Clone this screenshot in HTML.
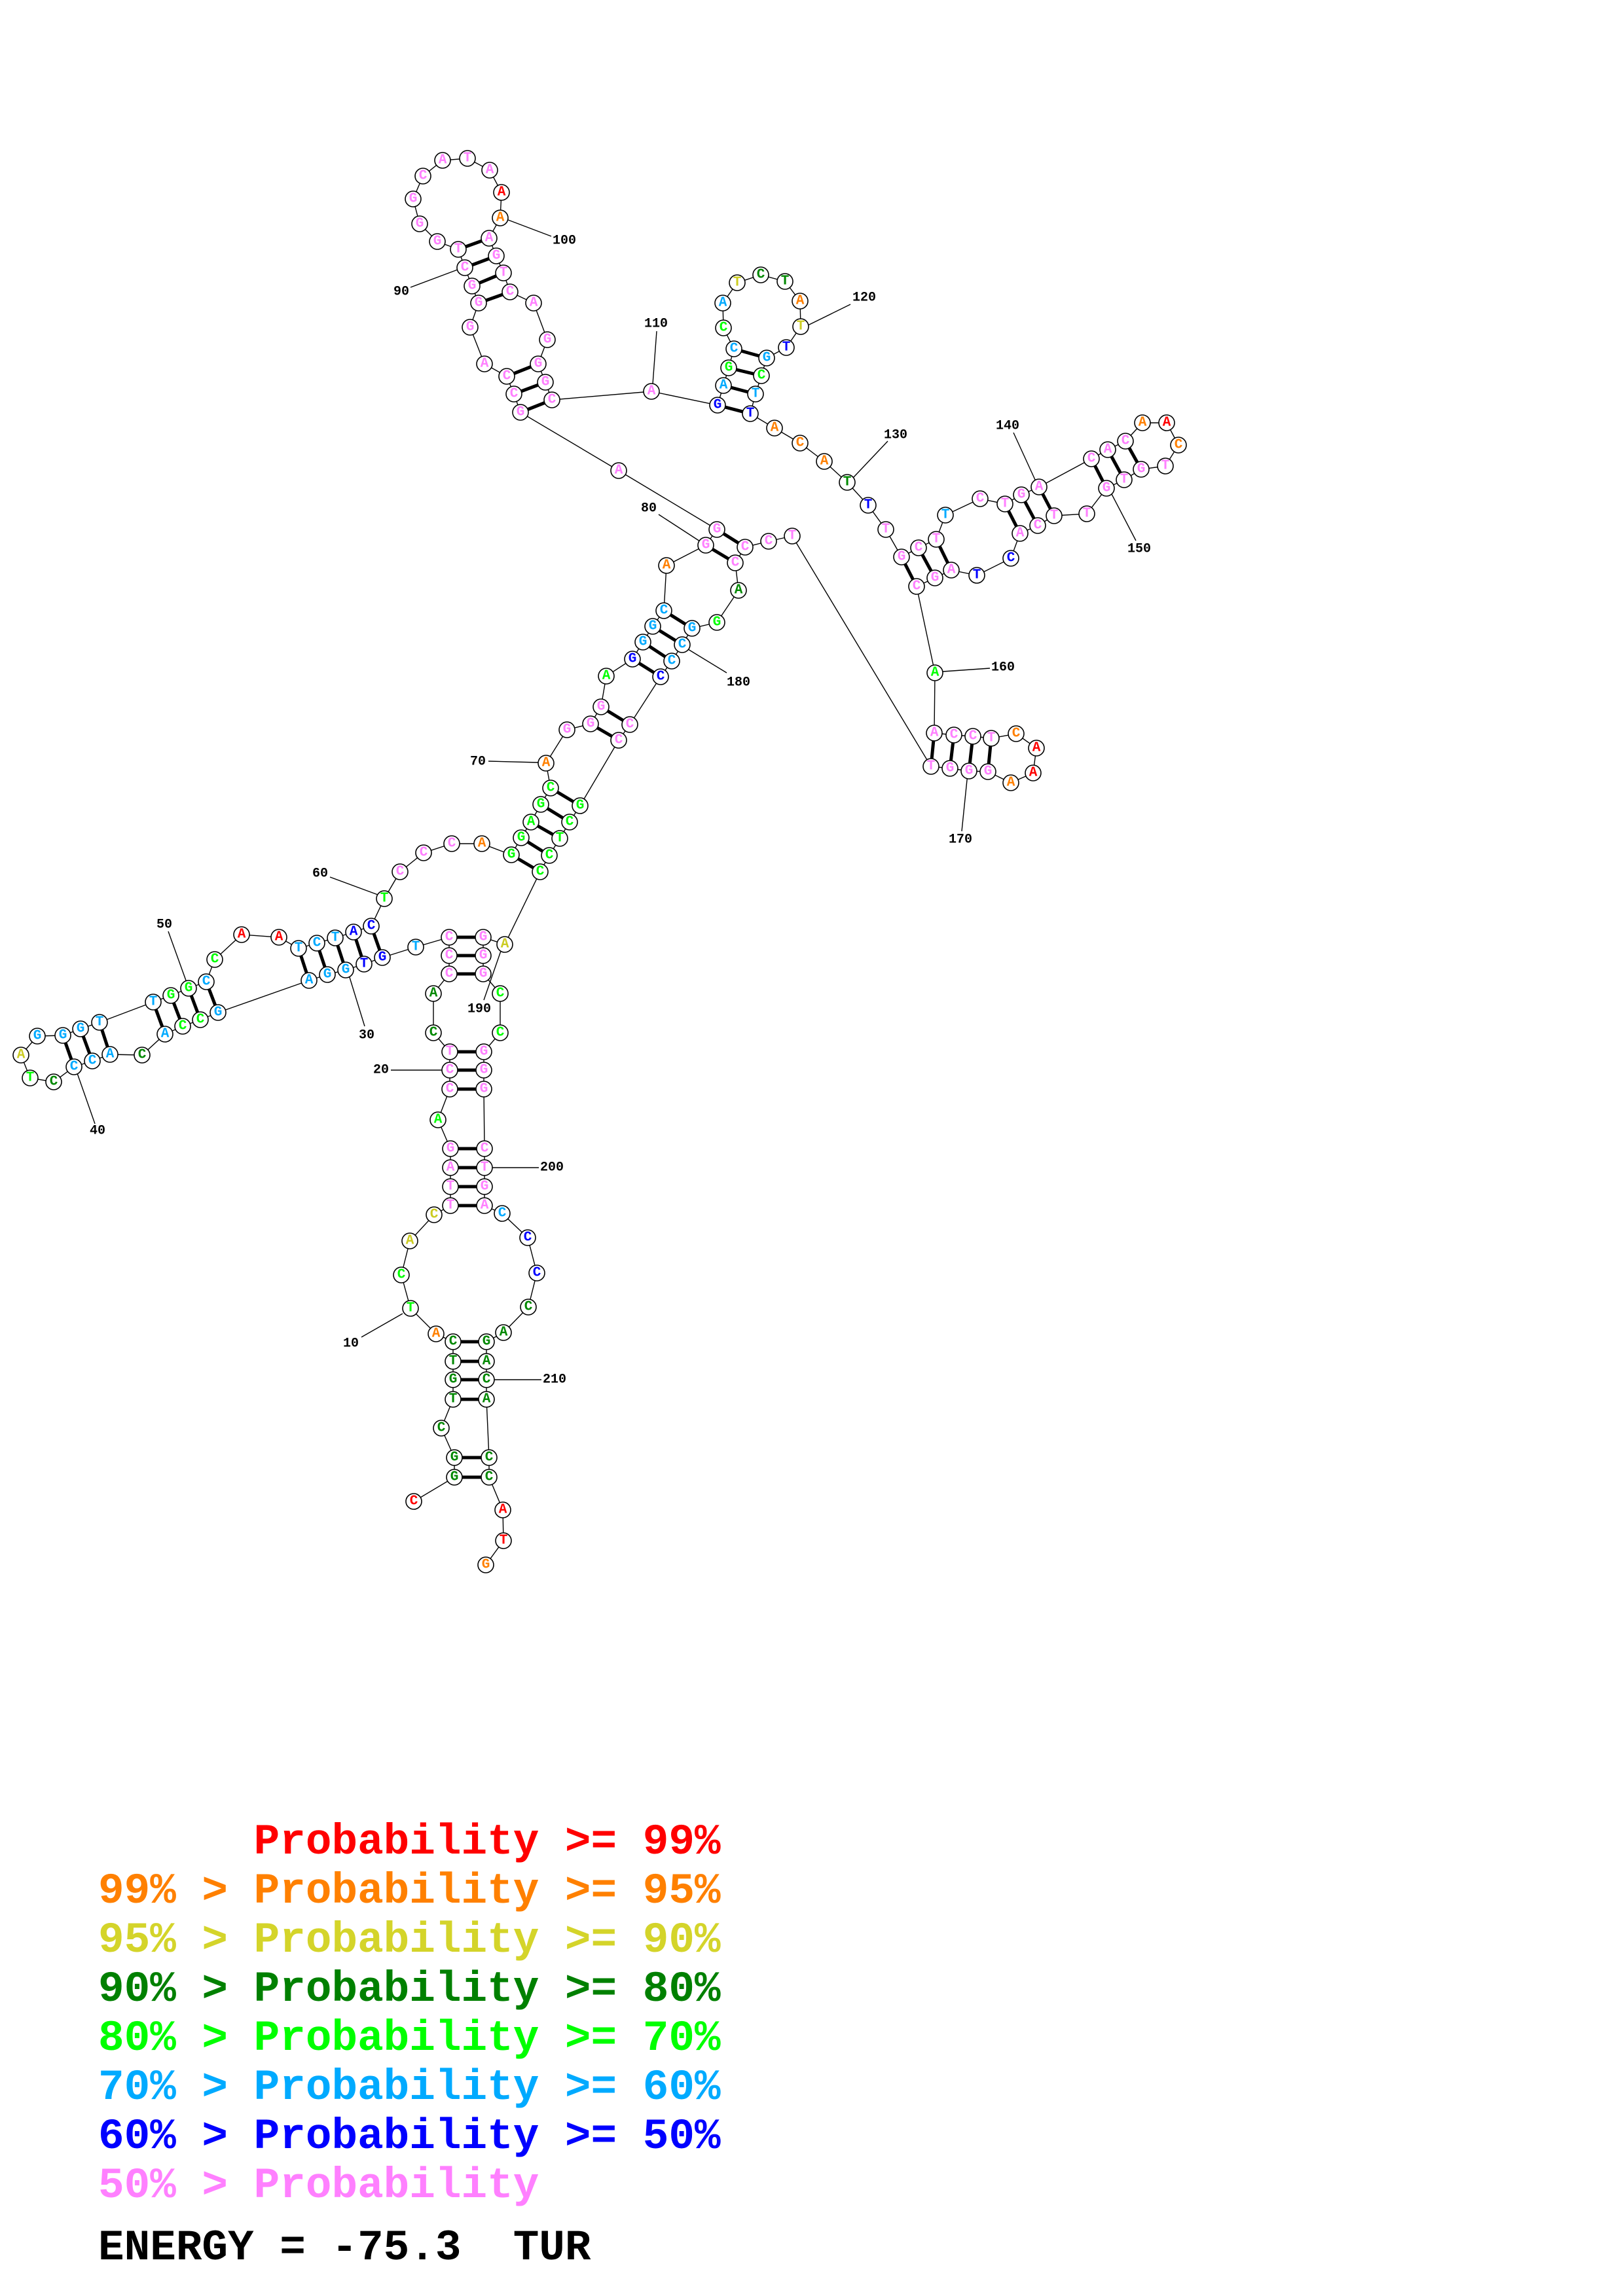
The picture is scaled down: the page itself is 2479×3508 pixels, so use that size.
<!DOCTYPE html>
<html><head><meta charset="utf-8"><style>
html,body{margin:0;padding:0;background:#fff;}
svg{display:block;}
.n text{font-family:"Liberation Mono",monospace;font-weight:bold;font-size:21px;text-anchor:middle;dominant-baseline:central;}
.lb{font-family:"Liberation Mono",monospace;font-weight:bold;font-size:20px;text-anchor:middle;dominant-baseline:central;fill:#000;}
.lg{font-family:"Liberation Mono",monospace;font-weight:bold;font-size:66px;white-space:pre;}
</style></head><body>
<svg width="2479" height="3508" viewBox="0 0 2479 3508" xmlns="http://www.w3.org/2000/svg">
<rect width="2479" height="3508" fill="#fff"/>
<polyline fill="none" stroke="#000" stroke-width="1.4" points="632,2294 694,2257 694,2227 674,2182 692,2138 692,2108 692,2080 692,2050 666,2038 627,1999 613,1948 626,1896 663,1856 688,1842 688,1813 688,1784 688,1755 669,1711 687,1664 687,1635 687,1607 662,1578 662,1518 686,1488 686,1460 686,1432 635,1447 584,1463 556,1473 528,1482 500,1489 472,1498 333,1547 306,1558 279,1568 252,1580 217,1612 168,1611 141,1621 113,1630 82,1653 46,1647 32,1612 57,1583 96,1582 123,1572 152,1562 234,1531 261,1521 288,1510 315,1500 328,1466 369,1428 426,1432 456,1449 484,1441 512,1433 540,1424 567,1415 587,1373 611,1332 647,1303 690,1289 736,1289 781,1306 796,1280 811,1256 826,1229 841,1204 834,1166 866,1115 902,1106 918,1080 926,1033 966,1007 982,981 997,957 1014,933 1018,864 1078,833 1095,809 945,719 795,630 785,602 774,575 740,556 718,500 731,463 721,437 710,409 700,381 668,369 641,342 631,304 646,269 676,245 714,242 748,260 766,294 764,333 747,364 758,391 769,417 779,446 815,463 836,519 822,556 833,584 843,611 995,598 1096,619 1105,589 1113,562 1121,533 1105,501 1104,463 1126,432 1162,420 1199,430 1222,460 1223,499 1201,531 1171,547 1163,574 1154,602 1146,632 1183,654 1222,677 1259,705 1294,737 1326,772 1353,809 1377,851 1403,837 1430,824 1444,787 1497,762 1535,770 1560,756 1587,744 1667,701 1692,687 1719,674 1745,646 1782,646 1800,680 1780,712 1743,717 1717,733 1690,746 1660,785 1610,788 1585,803 1558,815 1544,853 1492,879 1453,871 1428,883 1400,896 1428,1028 1427,1120 1457,1123 1486,1125 1514,1128 1552,1121 1583,1143 1578,1181 1544,1196 1509,1179 1480,1178 1451,1174 1422,1171 1210,819 1174,827 1138,836 1123,860 1128,902 1095,951 1057,960 1042,985 1026,1010 1009,1034 962,1107 945,1131 886,1231 870,1256 855,1281 839,1307 825,1332 771,1443 738,1432 738,1460 738,1488 764,1518 764,1578 739,1607 739,1635 739,1664 740,1755 740,1784 740,1813 740,1842 767,1854 806,1891 820,1945 807,1997 769,2036 743,2050 743,2080 743,2108 743,2138 747,2227 747,2257 768,2307 769,2354 742,2391"/>
<g stroke="#000" stroke-width="5">
<line x1="694" y1="2257" x2="747" y2="2257"/><line x1="694" y1="2227" x2="747" y2="2227"/>
<line x1="692" y1="2138" x2="743" y2="2138"/><line x1="692" y1="2108" x2="743" y2="2108"/><line x1="692" y1="2080" x2="743" y2="2080"/><line x1="692" y1="2050" x2="743" y2="2050"/>
<line x1="688" y1="1842" x2="740" y2="1842"/><line x1="688" y1="1813" x2="740" y2="1813"/><line x1="688" y1="1784" x2="740" y2="1784"/><line x1="688" y1="1755" x2="740" y2="1755"/>
<line x1="687" y1="1664" x2="739" y2="1664"/><line x1="687" y1="1635" x2="739" y2="1635"/><line x1="687" y1="1607" x2="739" y2="1607"/>
<line x1="686" y1="1488" x2="738" y2="1488"/><line x1="686" y1="1460" x2="738" y2="1460"/><line x1="686" y1="1432" x2="738" y2="1432"/>
<line x1="584" y1="1463" x2="567" y2="1415"/><line x1="556" y1="1473" x2="540" y2="1424"/><line x1="528" y1="1482" x2="512" y2="1433"/><line x1="500" y1="1489" x2="484" y2="1441"/><line x1="472" y1="1498" x2="456" y2="1449"/>
<line x1="333" y1="1547" x2="315" y2="1500"/><line x1="306" y1="1558" x2="288" y2="1510"/><line x1="279" y1="1568" x2="261" y2="1521"/><line x1="252" y1="1580" x2="234" y2="1531"/>
<line x1="168" y1="1611" x2="152" y2="1562"/><line x1="141" y1="1621" x2="123" y2="1572"/><line x1="113" y1="1630" x2="96" y2="1582"/>
<line x1="781" y1="1306" x2="825" y2="1332"/><line x1="796" y1="1280" x2="839" y2="1307"/><line x1="811" y1="1256" x2="855" y2="1281"/><line x1="826" y1="1229" x2="870" y2="1256"/><line x1="841" y1="1204" x2="886" y2="1231"/>
<line x1="902" y1="1106" x2="945" y2="1131"/><line x1="918" y1="1080" x2="962" y2="1107"/>
<line x1="966" y1="1007" x2="1009" y2="1034"/><line x1="982" y1="981" x2="1026" y2="1010"/><line x1="997" y1="957" x2="1042" y2="985"/><line x1="1014" y1="933" x2="1057" y2="960"/>
<line x1="1078" y1="833" x2="1123" y2="860"/><line x1="1095" y1="809" x2="1138" y2="836"/>
<line x1="795" y1="630" x2="843" y2="611"/><line x1="785" y1="602" x2="833" y2="584"/><line x1="774" y1="575" x2="822" y2="556"/>
<line x1="731" y1="463" x2="779" y2="446"/><line x1="721" y1="437" x2="769" y2="417"/><line x1="710" y1="409" x2="758" y2="391"/><line x1="700" y1="381" x2="747" y2="364"/>
<line x1="1096" y1="619" x2="1146" y2="632"/><line x1="1105" y1="589" x2="1154" y2="602"/><line x1="1113" y1="562" x2="1163" y2="574"/><line x1="1121" y1="533" x2="1171" y2="547"/>
<line x1="1377" y1="851" x2="1400" y2="896"/><line x1="1403" y1="837" x2="1428" y2="883"/><line x1="1430" y1="824" x2="1453" y2="871"/>
<line x1="1535" y1="770" x2="1558" y2="815"/><line x1="1560" y1="756" x2="1585" y2="803"/><line x1="1587" y1="744" x2="1610" y2="788"/>
<line x1="1667" y1="701" x2="1690" y2="746"/><line x1="1692" y1="687" x2="1717" y2="733"/><line x1="1719" y1="674" x2="1743" y2="717"/>
<line x1="1427" y1="1120" x2="1422" y2="1171"/><line x1="1457" y1="1123" x2="1451" y2="1174"/><line x1="1486" y1="1125" x2="1480" y2="1178"/><line x1="1514" y1="1128" x2="1509" y2="1179"/>
</g>
<g stroke="#000" stroke-width="1.4">
<line x1="552" y1="2043" x2="615" y2="2007"/><line x1="597" y1="1635" x2="677" y2="1635"/><line x1="557" y1="1568" x2="533" y2="1490"/><line x1="145" y1="1717" x2="118" y2="1640"/><line x1="257" y1="1423" x2="284" y2="1498"/><line x1="504" y1="1340" x2="577" y2="1367"/><line x1="746" y1="1163" x2="823" y2="1165"/><line x1="1006" y1="786" x2="1069" y2="827"/><line x1="627" y1="439" x2="699" y2="412"/><line x1="776" y1="336" x2="842" y2="361"/><line x1="1003" y1="506" x2="997" y2="587"/><line x1="1234" y1="497" x2="1299" y2="465"/><line x1="1303" y1="730" x2="1356" y2="674"/><line x1="1581" y1="733" x2="1548" y2="661"/><line x1="1698" y1="755" x2="1735" y2="826"/><line x1="1440" y1="1026" x2="1512" y2="1021"/><line x1="1478" y1="1182" x2="1469" y2="1270"/><line x1="1051" y1="992" x2="1110" y2="1028"/><line x1="765" y1="1453" x2="739" y2="1528"/><line x1="752" y1="1784" x2="823" y2="1784"/><line x1="755" y1="2108" x2="827" y2="2108"/>
</g>
<g class="lb">
<text x="536" y="2053">10</text><text x="582" y="1635">20</text><text x="560" y="1582">30</text><text x="149" y="1728">40</text><text x="251" y="1413">50</text><text x="489" y="1335">60</text><text x="730" y="1164">70</text><text x="991" y="777">80</text><text x="613" y="446">90</text><text x="862" y="368">100</text><text x="1002" y="495">110</text><text x="1320" y="455">120</text><text x="1368" y="665">130</text><text x="1539" y="651">140</text><text x="1740" y="839">150</text><text x="1532" y="1020">160</text><text x="1467" y="1283">170</text><text x="1128" y="1043">180</text><text x="732" y="1542">190</text><text x="843" y="1784">200</text><text x="847" y="2108">210</text>
</g>
<g fill="#fff" stroke="#000" stroke-width="1.6">
<circle cx="632" cy="2294" r="12"/><circle cx="694" cy="2257" r="12"/><circle cx="694" cy="2227" r="12"/><circle cx="674" cy="2182" r="12"/><circle cx="692" cy="2138" r="12"/><circle cx="692" cy="2108" r="12"/><circle cx="692" cy="2080" r="12"/><circle cx="692" cy="2050" r="12"/><circle cx="666" cy="2038" r="12"/><circle cx="627" cy="1999" r="12"/><circle cx="613" cy="1948" r="12"/><circle cx="626" cy="1896" r="12"/><circle cx="663" cy="1856" r="12"/><circle cx="688" cy="1842" r="12"/><circle cx="688" cy="1813" r="12"/><circle cx="688" cy="1784" r="12"/><circle cx="688" cy="1755" r="12"/><circle cx="669" cy="1711" r="12"/><circle cx="687" cy="1664" r="12"/><circle cx="687" cy="1635" r="12"/><circle cx="687" cy="1607" r="12"/><circle cx="662" cy="1578" r="12"/><circle cx="662" cy="1518" r="12"/><circle cx="686" cy="1488" r="12"/><circle cx="686" cy="1460" r="12"/><circle cx="686" cy="1432" r="12"/><circle cx="635" cy="1447" r="12"/><circle cx="584" cy="1463" r="12"/><circle cx="556" cy="1473" r="12"/><circle cx="528" cy="1482" r="12"/><circle cx="500" cy="1489" r="12"/><circle cx="472" cy="1498" r="12"/><circle cx="333" cy="1547" r="12"/><circle cx="306" cy="1558" r="12"/><circle cx="279" cy="1568" r="12"/><circle cx="252" cy="1580" r="12"/><circle cx="217" cy="1612" r="12"/><circle cx="168" cy="1611" r="12"/><circle cx="141" cy="1621" r="12"/><circle cx="113" cy="1630" r="12"/><circle cx="82" cy="1653" r="12"/><circle cx="46" cy="1647" r="12"/><circle cx="32" cy="1612" r="12"/><circle cx="57" cy="1583" r="12"/><circle cx="96" cy="1582" r="12"/><circle cx="123" cy="1572" r="12"/><circle cx="152" cy="1562" r="12"/><circle cx="234" cy="1531" r="12"/><circle cx="261" cy="1521" r="12"/><circle cx="288" cy="1510" r="12"/><circle cx="315" cy="1500" r="12"/><circle cx="328" cy="1466" r="12"/><circle cx="369" cy="1428" r="12"/><circle cx="426" cy="1432" r="12"/><circle cx="456" cy="1449" r="12"/><circle cx="484" cy="1441" r="12"/><circle cx="512" cy="1433" r="12"/><circle cx="540" cy="1424" r="12"/><circle cx="567" cy="1415" r="12"/><circle cx="587" cy="1373" r="12"/><circle cx="611" cy="1332" r="12"/><circle cx="647" cy="1303" r="12"/><circle cx="690" cy="1289" r="12"/><circle cx="736" cy="1289" r="12"/><circle cx="781" cy="1306" r="12"/><circle cx="796" cy="1280" r="12"/><circle cx="811" cy="1256" r="12"/><circle cx="826" cy="1229" r="12"/><circle cx="841" cy="1204" r="12"/><circle cx="834" cy="1166" r="12"/><circle cx="866" cy="1115" r="12"/><circle cx="902" cy="1106" r="12"/><circle cx="918" cy="1080" r="12"/><circle cx="926" cy="1033" r="12"/><circle cx="966" cy="1007" r="12"/><circle cx="982" cy="981" r="12"/><circle cx="997" cy="957" r="12"/><circle cx="1014" cy="933" r="12"/><circle cx="1018" cy="864" r="12"/><circle cx="1078" cy="833" r="12"/><circle cx="1095" cy="809" r="12"/><circle cx="945" cy="719" r="12"/><circle cx="795" cy="630" r="12"/><circle cx="785" cy="602" r="12"/><circle cx="774" cy="575" r="12"/><circle cx="740" cy="556" r="12"/><circle cx="718" cy="500" r="12"/><circle cx="731" cy="463" r="12"/><circle cx="721" cy="437" r="12"/><circle cx="710" cy="409" r="12"/><circle cx="700" cy="381" r="12"/><circle cx="668" cy="369" r="12"/><circle cx="641" cy="342" r="12"/><circle cx="631" cy="304" r="12"/><circle cx="646" cy="269" r="12"/><circle cx="676" cy="245" r="12"/><circle cx="714" cy="242" r="12"/><circle cx="748" cy="260" r="12"/><circle cx="766" cy="294" r="12"/><circle cx="764" cy="333" r="12"/><circle cx="747" cy="364" r="12"/><circle cx="758" cy="391" r="12"/><circle cx="769" cy="417" r="12"/><circle cx="779" cy="446" r="12"/><circle cx="815" cy="463" r="12"/><circle cx="836" cy="519" r="12"/><circle cx="822" cy="556" r="12"/><circle cx="833" cy="584" r="12"/><circle cx="843" cy="611" r="12"/><circle cx="995" cy="598" r="12"/><circle cx="1096" cy="619" r="12"/><circle cx="1105" cy="589" r="12"/><circle cx="1113" cy="562" r="12"/><circle cx="1121" cy="533" r="12"/><circle cx="1105" cy="501" r="12"/><circle cx="1104" cy="463" r="12"/><circle cx="1126" cy="432" r="12"/><circle cx="1162" cy="420" r="12"/><circle cx="1199" cy="430" r="12"/><circle cx="1222" cy="460" r="12"/><circle cx="1223" cy="499" r="12"/><circle cx="1201" cy="531" r="12"/><circle cx="1171" cy="547" r="12"/><circle cx="1163" cy="574" r="12"/><circle cx="1154" cy="602" r="12"/><circle cx="1146" cy="632" r="12"/><circle cx="1183" cy="654" r="12"/><circle cx="1222" cy="677" r="12"/><circle cx="1259" cy="705" r="12"/><circle cx="1294" cy="737" r="12"/><circle cx="1326" cy="772" r="12"/><circle cx="1353" cy="809" r="12"/><circle cx="1377" cy="851" r="12"/><circle cx="1403" cy="837" r="12"/><circle cx="1430" cy="824" r="12"/><circle cx="1444" cy="787" r="12"/><circle cx="1497" cy="762" r="12"/><circle cx="1535" cy="770" r="12"/><circle cx="1560" cy="756" r="12"/><circle cx="1587" cy="744" r="12"/><circle cx="1667" cy="701" r="12"/><circle cx="1692" cy="687" r="12"/><circle cx="1719" cy="674" r="12"/><circle cx="1745" cy="646" r="12"/><circle cx="1782" cy="646" r="12"/><circle cx="1800" cy="680" r="12"/><circle cx="1780" cy="712" r="12"/><circle cx="1743" cy="717" r="12"/><circle cx="1717" cy="733" r="12"/><circle cx="1690" cy="746" r="12"/><circle cx="1660" cy="785" r="12"/><circle cx="1610" cy="788" r="12"/><circle cx="1585" cy="803" r="12"/><circle cx="1558" cy="815" r="12"/><circle cx="1544" cy="853" r="12"/><circle cx="1492" cy="879" r="12"/><circle cx="1453" cy="871" r="12"/><circle cx="1428" cy="883" r="12"/><circle cx="1400" cy="896" r="12"/><circle cx="1428" cy="1028" r="12"/><circle cx="1427" cy="1120" r="12"/><circle cx="1457" cy="1123" r="12"/><circle cx="1486" cy="1125" r="12"/><circle cx="1514" cy="1128" r="12"/><circle cx="1552" cy="1121" r="12"/><circle cx="1583" cy="1143" r="12"/><circle cx="1578" cy="1181" r="12"/><circle cx="1544" cy="1196" r="12"/><circle cx="1509" cy="1179" r="12"/><circle cx="1480" cy="1178" r="12"/><circle cx="1451" cy="1174" r="12"/><circle cx="1422" cy="1171" r="12"/><circle cx="1210" cy="819" r="12"/><circle cx="1174" cy="827" r="12"/><circle cx="1138" cy="836" r="12"/><circle cx="1123" cy="860" r="12"/><circle cx="1128" cy="902" r="12"/><circle cx="1095" cy="951" r="12"/><circle cx="1057" cy="960" r="12"/><circle cx="1042" cy="985" r="12"/><circle cx="1026" cy="1010" r="12"/><circle cx="1009" cy="1034" r="12"/><circle cx="962" cy="1107" r="12"/><circle cx="945" cy="1131" r="12"/><circle cx="886" cy="1231" r="12"/><circle cx="870" cy="1256" r="12"/><circle cx="855" cy="1281" r="12"/><circle cx="839" cy="1307" r="12"/><circle cx="825" cy="1332" r="12"/><circle cx="771" cy="1443" r="12"/><circle cx="738" cy="1432" r="12"/><circle cx="738" cy="1460" r="12"/><circle cx="738" cy="1488" r="12"/><circle cx="764" cy="1518" r="12"/><circle cx="764" cy="1578" r="12"/><circle cx="739" cy="1607" r="12"/><circle cx="739" cy="1635" r="12"/><circle cx="739" cy="1664" r="12"/><circle cx="740" cy="1755" r="12"/><circle cx="740" cy="1784" r="12"/><circle cx="740" cy="1813" r="12"/><circle cx="740" cy="1842" r="12"/><circle cx="767" cy="1854" r="12"/><circle cx="806" cy="1891" r="12"/><circle cx="820" cy="1945" r="12"/><circle cx="807" cy="1997" r="12"/><circle cx="769" cy="2036" r="12"/><circle cx="743" cy="2050" r="12"/><circle cx="743" cy="2080" r="12"/><circle cx="743" cy="2108" r="12"/><circle cx="743" cy="2138" r="12"/><circle cx="747" cy="2227" r="12"/><circle cx="747" cy="2257" r="12"/><circle cx="768" cy="2307" r="12"/><circle cx="769" cy="2354" r="12"/><circle cx="742" cy="2391" r="12"/>
</g>
<g class="n">
<text x="632" y="2294" fill="#f00">C</text><text x="694" y="2257" fill="#080">G</text><text x="694" y="2227" fill="#080">G</text><text x="674" y="2182" fill="#080">C</text><text x="692" y="2138" fill="#080">T</text><text x="692" y="2108" fill="#080">G</text><text x="692" y="2080" fill="#080">T</text><text x="692" y="2050" fill="#080">C</text><text x="666" y="2038" fill="#ff8000">A</text><text x="627" y="1999" fill="#0f0">T</text><text x="613" y="1948" fill="#0f0">C</text><text x="626" y="1896" fill="#cccc22">A</text><text x="663" y="1856" fill="#cccc22">C</text><text x="688" y="1842" fill="#ff80ff">T</text><text x="688" y="1813" fill="#ff80ff">T</text><text x="688" y="1784" fill="#ff80ff">A</text><text x="688" y="1755" fill="#ff80ff">G</text><text x="669" y="1711" fill="#0f0">A</text><text x="687" y="1664" fill="#ff80ff">C</text><text x="687" y="1635" fill="#ff80ff">C</text><text x="687" y="1607" fill="#ff80ff">T</text><text x="662" y="1578" fill="#080">C</text><text x="662" y="1518" fill="#080">A</text><text x="686" y="1488" fill="#ff80ff">C</text><text x="686" y="1460" fill="#ff80ff">C</text><text x="686" y="1432" fill="#ff80ff">C</text><text x="635" y="1447" fill="#0af">T</text><text x="584" y="1463" fill="#00f">G</text><text x="556" y="1473" fill="#00f">T</text><text x="528" y="1482" fill="#0af">G</text><text x="500" y="1489" fill="#0af">G</text><text x="472" y="1498" fill="#0af">A</text><text x="333" y="1547" fill="#0af">G</text><text x="306" y="1558" fill="#0f0">C</text><text x="279" y="1568" fill="#0f0">C</text><text x="252" y="1580" fill="#0af">A</text><text x="217" y="1612" fill="#080">C</text><text x="168" y="1611" fill="#0af">A</text><text x="141" y="1621" fill="#0af">C</text><text x="113" y="1630" fill="#0af">C</text><text x="82" y="1653" fill="#080">C</text><text x="46" y="1647" fill="#0f0">T</text><text x="32" y="1612" fill="#cccc22">A</text><text x="57" y="1583" fill="#0af">G</text><text x="96" y="1582" fill="#0af">G</text><text x="123" y="1572" fill="#0af">G</text><text x="152" y="1562" fill="#0af">T</text><text x="234" y="1531" fill="#0af">T</text><text x="261" y="1521" fill="#0f0">G</text><text x="288" y="1510" fill="#0f0">G</text><text x="315" y="1500" fill="#0af">C</text><text x="328" y="1466" fill="#0f0">C</text><text x="369" y="1428" fill="#f00">A</text><text x="426" y="1432" fill="#f00">A</text><text x="456" y="1449" fill="#0af">T</text><text x="484" y="1441" fill="#0af">C</text><text x="512" y="1433" fill="#0af">T</text><text x="540" y="1424" fill="#00f">A</text><text x="567" y="1415" fill="#00f">C</text><text x="587" y="1373" fill="#0f0">T</text><text x="611" y="1332" fill="#ff80ff">C</text><text x="647" y="1303" fill="#ff80ff">C</text><text x="690" y="1289" fill="#ff80ff">C</text><text x="736" y="1289" fill="#ff8000">A</text><text x="781" y="1306" fill="#0f0">G</text><text x="796" y="1280" fill="#0f0">G</text><text x="811" y="1256" fill="#0f0">A</text><text x="826" y="1229" fill="#0f0">G</text><text x="841" y="1204" fill="#0f0">C</text><text x="834" y="1166" fill="#ff8000">A</text><text x="866" y="1115" fill="#ff80ff">G</text><text x="902" y="1106" fill="#ff80ff">G</text><text x="918" y="1080" fill="#ff80ff">G</text><text x="926" y="1033" fill="#0f0">A</text><text x="966" y="1007" fill="#00f">G</text><text x="982" y="981" fill="#0af">G</text><text x="997" y="957" fill="#0af">G</text><text x="1014" y="933" fill="#0af">C</text><text x="1018" y="864" fill="#ff8000">A</text><text x="1078" y="833" fill="#ff80ff">G</text><text x="1095" y="809" fill="#ff80ff">G</text><text x="945" y="719" fill="#ff80ff">A</text><text x="795" y="630" fill="#ff80ff">G</text><text x="785" y="602" fill="#ff80ff">C</text><text x="774" y="575" fill="#ff80ff">C</text><text x="740" y="556" fill="#ff80ff">A</text><text x="718" y="500" fill="#ff80ff">G</text><text x="731" y="463" fill="#ff80ff">G</text><text x="721" y="437" fill="#ff80ff">G</text><text x="710" y="409" fill="#ff80ff">C</text><text x="700" y="381" fill="#ff80ff">T</text><text x="668" y="369" fill="#ff80ff">G</text><text x="641" y="342" fill="#ff80ff">G</text><text x="631" y="304" fill="#ff80ff">G</text><text x="646" y="269" fill="#ff80ff">C</text><text x="676" y="245" fill="#ff80ff">A</text><text x="714" y="242" fill="#ff80ff">T</text><text x="748" y="260" fill="#ff80ff">A</text><text x="766" y="294" fill="#f00">A</text><text x="764" y="333" fill="#ff8000">A</text><text x="747" y="364" fill="#ff80ff">A</text><text x="758" y="391" fill="#ff80ff">G</text><text x="769" y="417" fill="#ff80ff">T</text><text x="779" y="446" fill="#ff80ff">C</text><text x="815" y="463" fill="#ff80ff">A</text><text x="836" y="519" fill="#ff80ff">G</text><text x="822" y="556" fill="#ff80ff">G</text><text x="833" y="584" fill="#ff80ff">G</text><text x="843" y="611" fill="#ff80ff">C</text><text x="995" y="598" fill="#ff80ff">A</text><text x="1096" y="619" fill="#00f">G</text><text x="1105" y="589" fill="#0af">A</text><text x="1113" y="562" fill="#0f0">G</text><text x="1121" y="533" fill="#0af">C</text><text x="1105" y="501" fill="#0f0">C</text><text x="1104" y="463" fill="#0af">A</text><text x="1126" y="432" fill="#cccc22">T</text><text x="1162" y="420" fill="#080">C</text><text x="1199" y="430" fill="#080">T</text><text x="1222" y="460" fill="#ff8000">A</text><text x="1223" y="499" fill="#cccc22">T</text><text x="1201" y="531" fill="#00f">T</text><text x="1171" y="547" fill="#0af">G</text><text x="1163" y="574" fill="#0f0">C</text><text x="1154" y="602" fill="#0af">T</text><text x="1146" y="632" fill="#00f">T</text><text x="1183" y="654" fill="#ff8000">A</text><text x="1222" y="677" fill="#ff8000">C</text><text x="1259" y="705" fill="#ff8000">A</text><text x="1294" y="737" fill="#080">T</text><text x="1326" y="772" fill="#00f">T</text><text x="1353" y="809" fill="#ff80ff">T</text><text x="1377" y="851" fill="#ff80ff">G</text><text x="1403" y="837" fill="#ff80ff">C</text><text x="1430" y="824" fill="#ff80ff">T</text><text x="1444" y="787" fill="#0af">T</text><text x="1497" y="762" fill="#ff80ff">C</text><text x="1535" y="770" fill="#ff80ff">T</text><text x="1560" y="756" fill="#ff80ff">G</text><text x="1587" y="744" fill="#ff80ff">A</text><text x="1667" y="701" fill="#ff80ff">C</text><text x="1692" y="687" fill="#ff80ff">A</text><text x="1719" y="674" fill="#ff80ff">C</text><text x="1745" y="646" fill="#ff8000">A</text><text x="1782" y="646" fill="#f00">A</text><text x="1800" y="680" fill="#ff8000">C</text><text x="1780" y="712" fill="#ff80ff">T</text><text x="1743" y="717" fill="#ff80ff">G</text><text x="1717" y="733" fill="#ff80ff">T</text><text x="1690" y="746" fill="#ff80ff">G</text><text x="1660" y="785" fill="#ff80ff">T</text><text x="1610" y="788" fill="#ff80ff">T</text><text x="1585" y="803" fill="#ff80ff">C</text><text x="1558" y="815" fill="#ff80ff">A</text><text x="1544" y="853" fill="#00f">C</text><text x="1492" y="879" fill="#00f">T</text><text x="1453" y="871" fill="#ff80ff">A</text><text x="1428" y="883" fill="#ff80ff">G</text><text x="1400" y="896" fill="#ff80ff">C</text><text x="1428" y="1028" fill="#0f0">A</text><text x="1427" y="1120" fill="#ff80ff">A</text><text x="1457" y="1123" fill="#ff80ff">C</text><text x="1486" y="1125" fill="#ff80ff">C</text><text x="1514" y="1128" fill="#ff80ff">T</text><text x="1552" y="1121" fill="#ff8000">C</text><text x="1583" y="1143" fill="#f00">A</text><text x="1578" y="1181" fill="#f00">A</text><text x="1544" y="1196" fill="#ff8000">A</text><text x="1509" y="1179" fill="#ff80ff">G</text><text x="1480" y="1178" fill="#ff80ff">G</text><text x="1451" y="1174" fill="#ff80ff">G</text><text x="1422" y="1171" fill="#ff80ff">T</text><text x="1210" y="819" fill="#ff80ff">T</text><text x="1174" y="827" fill="#ff80ff">C</text><text x="1138" y="836" fill="#ff80ff">C</text><text x="1123" y="860" fill="#ff80ff">C</text><text x="1128" y="902" fill="#080">A</text><text x="1095" y="951" fill="#0f0">G</text><text x="1057" y="960" fill="#0af">G</text><text x="1042" y="985" fill="#0af">C</text><text x="1026" y="1010" fill="#0af">C</text><text x="1009" y="1034" fill="#00f">C</text><text x="962" y="1107" fill="#ff80ff">C</text><text x="945" y="1131" fill="#ff80ff">C</text><text x="886" y="1231" fill="#0f0">G</text><text x="870" y="1256" fill="#0f0">C</text><text x="855" y="1281" fill="#0f0">T</text><text x="839" y="1307" fill="#0f0">C</text><text x="825" y="1332" fill="#0f0">C</text><text x="771" y="1443" fill="#cccc22">A</text><text x="738" y="1432" fill="#ff80ff">G</text><text x="738" y="1460" fill="#ff80ff">G</text><text x="738" y="1488" fill="#ff80ff">G</text><text x="764" y="1518" fill="#0f0">C</text><text x="764" y="1578" fill="#0f0">C</text><text x="739" y="1607" fill="#ff80ff">G</text><text x="739" y="1635" fill="#ff80ff">G</text><text x="739" y="1664" fill="#ff80ff">G</text><text x="740" y="1755" fill="#ff80ff">C</text><text x="740" y="1784" fill="#ff80ff">T</text><text x="740" y="1813" fill="#ff80ff">G</text><text x="740" y="1842" fill="#ff80ff">A</text><text x="767" y="1854" fill="#0af">C</text><text x="806" y="1891" fill="#00f">C</text><text x="820" y="1945" fill="#00f">C</text><text x="807" y="1997" fill="#080">C</text><text x="769" y="2036" fill="#080">A</text><text x="743" y="2050" fill="#080">G</text><text x="743" y="2080" fill="#080">A</text><text x="743" y="2108" fill="#080">C</text><text x="743" y="2138" fill="#080">A</text><text x="747" y="2227" fill="#080">C</text><text x="747" y="2257" fill="#080">C</text><text x="768" y="2307" fill="#f00">A</text><text x="769" y="2354" fill="#f00">T</text><text x="742" y="2391" fill="#ff8000">G</text>
</g>
<g class="lg">
<text x="150" y="2832" fill="#ff0000" xml:space="preserve">      Probability &gt;= 99%</text>
<text x="150" y="2907" fill="#ff8000" xml:space="preserve">99% &gt; Probability &gt;= 95%</text>
<text x="150" y="2982" fill="#d4d42a" xml:space="preserve">95% &gt; Probability &gt;= 90%</text>
<text x="150" y="3057" fill="#008000" xml:space="preserve">90% &gt; Probability &gt;= 80%</text>
<text x="150" y="3132" fill="#00ff00" xml:space="preserve">80% &gt; Probability &gt;= 70%</text>
<text x="150" y="3207" fill="#00aaff" xml:space="preserve">70% &gt; Probability &gt;= 60%</text>
<text x="150" y="3282" fill="#0000ff" xml:space="preserve">60% &gt; Probability &gt;= 50%</text>
<text x="150" y="3357" fill="#ff80ff" xml:space="preserve">50% &gt; Probability</text>
<text x="150" y="3452" fill="#000" xml:space="preserve">ENERGY = -75.3  TUR</text>
</g>
</svg>
</body></html>
